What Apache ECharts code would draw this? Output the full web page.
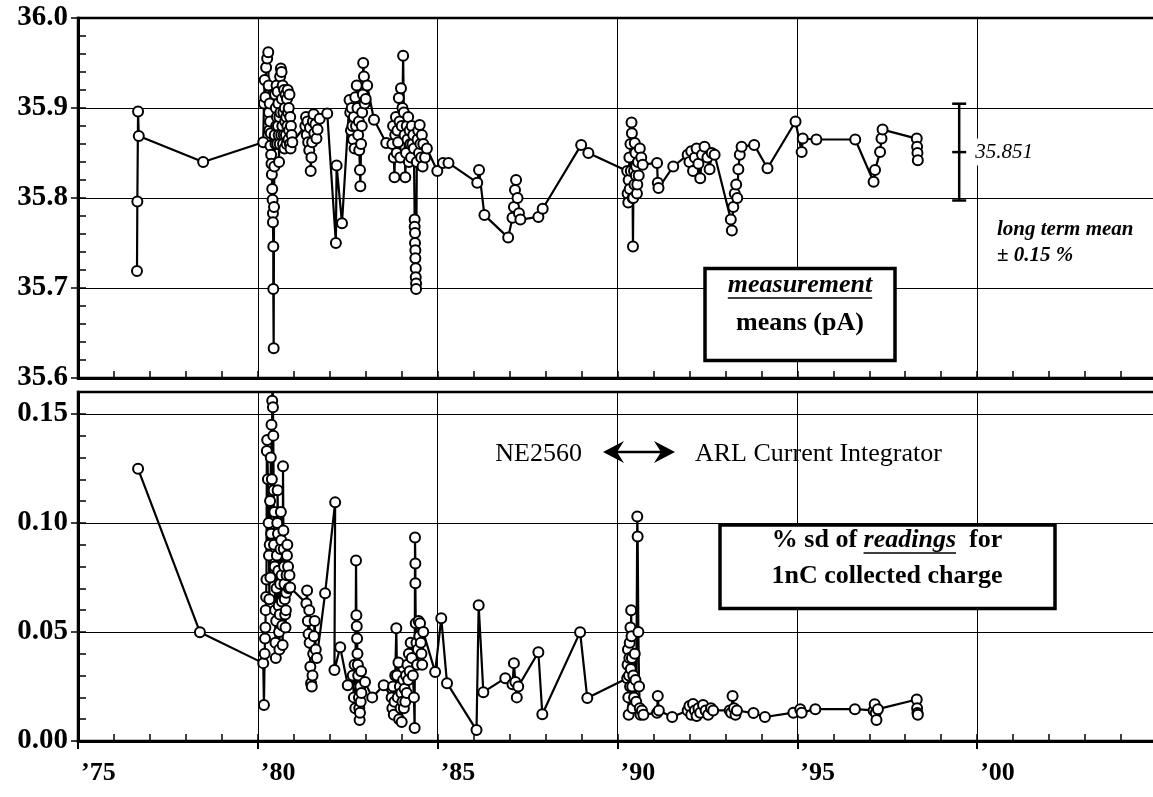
<!DOCTYPE html>
<html><head><meta charset="utf-8">
<script src="https://cdn.jsdelivr.net/npm/echarts/dist/echarts.min.js"></script>
<style>html,body{margin:0;padding:0;background:#fff}#c{width:1153px;height:797px}</style>
</head><body><div id="c"></div>
<script>
// ---------------- DATA ----------------
const xTickYears = [1975, 1980, 1985, 1990, 1995, 2000];
const xTickText  = ['’75', '’80', '’85', '’90', '’95', '’00'];
const topTickText = ['35.6', '35.7', '35.8', '35.9', '36.0'];
const sdTickText  = ['0.00', '0.05', '0.10', '0.15'];

// measurement means (pA)  [year, value]
const meanPA = [
[1976.64,35.719],[1976.65,35.796],[1976.67,35.896],[1976.69,35.869],[1978.48,35.840],
[1980.15,35.862],[1980.17,35.905],[1980.19,35.931],[1980.21,35.912],[1980.23,35.945],[1980.26,35.955],[1980.29,35.962],[1980.30,35.925],[1980.31,35.895],[1980.32,35.875],[1980.33,35.905],[1980.34,35.885],[1980.35,35.858],[1980.36,35.872],[1980.37,35.848],[1980.38,35.838],[1980.39,35.826],[1980.40,35.810],[1980.41,35.798],[1980.42,35.783],[1980.42,35.773],[1980.43,35.746],[1980.43,35.699],[1980.44,35.633],[1980.45,35.790],[1980.46,35.835],[1980.47,35.870],[1980.48,35.915],[1980.49,35.860],[1980.50,35.900],[1980.51,35.880],[1980.52,35.925],[1980.53,35.890],[1980.54,35.860],[1980.55,35.918],[1980.56,35.880],[1980.57,35.905],[1980.58,35.870],[1980.59,35.840],[1980.60,35.890],[1980.61,35.860],[1980.62,35.935],[1980.63,35.895],[1980.64,35.944],[1980.65,35.870],[1980.66,35.940],[1980.67,35.910],[1980.68,35.880],[1980.69,35.925],[1980.70,35.860],[1980.71,35.895],[1980.72,35.870],[1980.73,35.920],[1980.74,35.855],[1980.75,35.900],[1980.76,35.885],[1980.77,35.915],[1980.78,35.870],[1980.79,35.890],[1980.80,35.860],[1980.81,35.910],[1980.82,35.880],[1980.83,35.920],[1980.84,35.895],[1980.85,35.865],[1980.86,35.900],[1980.87,35.875],[1980.88,35.915],[1980.89,35.860],[1980.90,35.890],[1980.91,35.855],[1980.92,35.880],[1980.94,35.870],[1980.96,35.862],
[1981.32,35.880],[1981.34,35.890],[1981.36,35.870],[1981.38,35.885],[1981.40,35.862],[1981.43,35.853],[1981.45,35.878],[1981.47,35.830],[1981.49,35.845],[1981.51,35.862],[1981.53,35.885],[1981.55,35.893],[1981.57,35.872],[1981.60,35.882],[1981.63,35.866],[1981.66,35.876],[1981.72,35.888],[1981.93,35.894],
[1982.17,35.750],[1982.19,35.836],[1982.34,35.772],
[1982.55,35.909],[1982.57,35.895],[1982.59,35.875],[1982.61,35.900],[1982.63,35.880],[1982.65,35.865],[1982.67,35.890],[1982.69,35.855],[1982.71,35.912],[1982.73,35.880],[1982.75,35.925],[1982.77,35.900],[1982.79,35.870],[1982.81,35.885],[1982.82,35.853],[1982.84,35.831],[1982.85,35.813],[1982.87,35.860],[1982.89,35.880],[1982.90,35.895],[1982.92,35.915],[1982.93,35.950],[1982.95,35.935],[1982.97,35.905],[1983.00,35.910],[1983.04,35.925],[1983.23,35.887],[1983.57,35.861],
[1983.74,35.860],[1983.76,35.880],[1983.78,35.845],[1983.80,35.823],[1983.82,35.870],[1983.84,35.890],[1983.86,35.850],[1983.88,35.875],[1983.90,35.862],[1983.92,35.911],[1983.94,35.885],[1983.96,35.845],[1983.98,35.922],[1984.00,35.880],[1984.02,35.900],[1984.04,35.958],[1984.06,35.895],[1984.08,35.870],[1984.10,35.823],[1984.12,35.850],[1984.14,35.880],[1984.16,35.865],[1984.18,35.890],[1984.20,35.840],[1984.22,35.875],[1984.24,35.860],[1984.26,35.845],[1984.28,35.880],[1984.30,35.860],[1984.32,35.870],[1984.34,35.855],[1984.36,35.776],[1984.36,35.768],[1984.37,35.761],[1984.37,35.750],[1984.38,35.742],[1984.38,35.733],[1984.39,35.722],[1984.39,35.712],[1984.40,35.705],[1984.40,35.699],[1984.42,35.840],[1984.44,35.865],[1984.46,35.875],[1984.48,35.850],[1984.50,35.881],[1984.52,35.860],[1984.54,35.845],[1984.56,35.870],[1984.58,35.835],[1984.60,35.860],[1984.65,35.845],[1984.70,35.855],[1984.99,35.830],[1985.15,35.839],[1985.30,35.839],
[1986.10,35.817],[1986.15,35.831],[1986.30,35.781],[1986.96,35.756],[1987.08,35.778],[1987.12,35.790],[1987.15,35.809],[1987.18,35.820],[1987.22,35.800],[1987.26,35.783],[1987.30,35.776],[1987.80,35.779],[1987.92,35.788],[1988.99,35.859],[1989.19,35.850],
[1990.27,35.830],[1990.28,35.805],[1990.30,35.795],[1990.31,35.820],[1990.33,35.845],[1990.34,35.810],[1990.36,35.860],[1990.37,35.830],[1990.39,35.884],[1990.40,35.872],[1990.42,35.800],[1990.43,35.746],[1990.44,35.800],[1990.46,35.830],[1990.47,35.815],[1990.48,35.861],[1990.50,35.850],[1990.51,35.825],[1990.52,35.835],[1990.54,35.805],[1990.55,35.815],[1990.57,35.840],[1990.59,35.825],[1990.62,35.855],[1990.66,35.845],[1990.70,35.837],
[1991.10,35.839],[1991.12,35.817],[1991.14,35.811],[1991.55,35.835],[1991.95,35.848],[1992.00,35.840],[1992.05,35.852],[1992.10,35.830],[1992.15,35.845],[1992.20,35.855],[1992.25,35.838],[1992.30,35.822],[1992.35,35.848],[1992.42,35.857],[1992.50,35.845],[1992.56,35.832],[1992.62,35.850],[1992.70,35.848],
[1993.15,35.776],[1993.18,35.764],[1993.22,35.790],[1993.26,35.805],[1993.30,35.815],[1993.33,35.800],[1993.36,35.832],[1993.40,35.848],[1993.45,35.857],[1993.80,35.859],[1994.17,35.833],[1994.95,35.885],[1995.12,35.851],[1995.15,35.866],[1995.53,35.865],[1996.61,35.865],
[1997.12,35.818],[1997.16,35.831],[1997.30,35.851],[1997.34,35.866],[1997.37,35.876],[1998.32,35.866],[1998.33,35.857],[1998.34,35.850],[1998.35,35.842]
];

// % sd of readings for 1nC collected charge  [year, value]
const sdReadings = [
[1976.67,0.1248],[1978.39,0.0499],
[1980.15,0.0357],[1980.17,0.0165],[1980.19,0.0400],[1980.20,0.0470],[1980.21,0.0520],[1980.22,0.0600],[1980.23,0.0660],[1980.24,0.0740],[1980.25,0.1330],[1980.26,0.1380],[1980.28,0.1200],[1980.30,0.1000],[1980.31,0.0850],[1980.32,0.0650],[1980.33,0.0900],[1980.34,0.1100],[1980.35,0.0750],[1980.36,0.1300],[1980.37,0.0950],[1980.38,0.1450],[1980.39,0.1200],[1980.40,0.1560],[1980.41,0.1680],[1980.42,0.1530],[1980.43,0.1400],[1980.44,0.1150],[1980.45,0.0900],[1980.46,0.1050],[1980.47,0.0800],[1980.48,0.0600],[1980.49,0.0450],[1980.50,0.0380],[1980.51,0.0550],[1980.52,0.0700],[1980.53,0.0850],[1980.54,0.1000],[1980.55,0.1150],[1980.56,0.0950],[1980.57,0.0780],[1980.58,0.0620],[1980.59,0.0500],[1980.60,0.0420],[1980.61,0.0580],[1980.62,0.0720],[1980.63,0.0880],[1980.64,0.1050],[1980.65,0.0920],[1980.66,0.0760],[1980.67,0.0640],[1980.68,0.0530],[1980.69,0.0440],[1980.70,0.1260],[1980.71,0.0965],[1980.72,0.0880],[1980.73,0.0800],[1980.74,0.0720],[1980.75,0.0650],[1980.76,0.0580],[1980.77,0.0520],[1980.78,0.0600],[1980.79,0.0680],[1980.80,0.0760],[1980.81,0.0850],[1980.82,0.0900],[1980.84,0.0800],[1980.86,0.0700],[1980.88,0.0760],[1980.90,0.0704],
[1981.35,0.0630],[1981.37,0.0690],[1981.39,0.0550],[1981.41,0.0490],[1981.43,0.0600],[1981.44,0.0450],[1981.46,0.0340],[1981.48,0.0265],[1981.50,0.0250],[1981.52,0.0300],[1981.54,0.0400],[1981.56,0.0480],[1981.58,0.0550],[1981.61,0.0420],[1981.64,0.0380],[1981.87,0.0677],[1982.15,0.1094],[1982.13,0.0325],[1982.29,0.0430],[1982.50,0.0256],
[1982.64,0.0300],[1982.67,0.0200],[1982.69,0.0350],[1982.71,0.0150],[1982.73,0.0828],[1982.74,0.0576],[1982.75,0.0526],[1982.76,0.0470],[1982.77,0.0400],[1982.78,0.0350],[1982.79,0.0300],[1982.80,0.0250],[1982.81,0.0200],[1982.82,0.0150],[1982.83,0.0096],[1982.84,0.0130],[1982.85,0.0250],[1982.86,0.0180],[1982.87,0.0320],[1982.88,0.0220],[1982.98,0.0270],[1983.18,0.0200],[1983.50,0.0256],
[1983.72,0.0200],[1983.74,0.0150],[1983.76,0.0250],[1983.78,0.0120],[1983.80,0.0180],[1983.82,0.0300],[1983.85,0.0517],[1983.87,0.0300],[1983.89,0.0200],[1983.91,0.0360],[1983.93,0.0100],[1983.95,0.0250],[1983.97,0.0150],[1983.99,0.0220],[1984.00,0.0087],[1984.02,0.0180],[1984.04,0.0280],[1984.06,0.0150],[1984.08,0.0240],[1984.10,0.0180],[1984.12,0.0300],[1984.14,0.0220],[1984.16,0.0350],[1984.18,0.0280],[1984.20,0.0400],[1984.22,0.0320],[1984.25,0.0450],[1984.28,0.0380],[1984.31,0.0300],[1984.34,0.0200],[1984.36,0.0060],[1984.37,0.0933],[1984.38,0.0814],[1984.38,0.0723],[1984.39,0.0540],[1984.41,0.0450],[1984.43,0.0350],[1984.45,0.0420],[1984.47,0.0550],[1984.49,0.0480],[1984.51,0.0540],[1984.53,0.0450],[1984.55,0.0400],[1984.57,0.0350],[1984.60,0.0500],[1984.93,0.0316],[1985.10,0.0563],[1985.26,0.0265],
[1986.08,0.0050],[1986.14,0.0622],[1986.27,0.0224],[1986.88,0.0288],[1987.08,0.0260],[1987.12,0.0357],[1987.16,0.0270],[1987.20,0.0200],[1987.24,0.0250],[1987.80,0.0407],[1987.91,0.0123],[1988.96,0.0499],[1989.16,0.0197],
[1990.27,0.0288],[1990.28,0.0350],[1990.29,0.0420],[1990.30,0.0200],[1990.31,0.0120],[1990.32,0.0300],[1990.33,0.0380],[1990.34,0.0450],[1990.35,0.0250],[1990.36,0.0520],[1990.37,0.0330],[1990.38,0.0599],[1990.39,0.0480],[1990.40,0.0380],[1990.41,0.0250],[1990.42,0.0150],[1990.44,0.0300],[1990.46,0.0200],[1990.48,0.0400],[1990.50,0.0280],[1990.52,0.0180],[1990.55,0.1029],[1990.56,0.0937],[1990.58,0.0500],[1990.60,0.0250],[1990.62,0.0150],[1990.64,0.0120],[1990.68,0.0140],[1990.72,0.0120],
[1991.10,0.0130],[1991.12,0.0206],[1991.15,0.0140],[1991.52,0.0110],[1991.95,0.0140],[1992.00,0.0160],[1992.05,0.0120],[1992.10,0.0170],[1992.15,0.0140],[1992.20,0.0115],[1992.25,0.0150],[1992.30,0.0130],[1992.38,0.0165],[1992.45,0.0140],[1992.52,0.0120],[1992.60,0.0150],[1992.66,0.0140],
[1993.12,0.0140],[1993.16,0.0130],[1993.20,0.0206],[1993.24,0.0150],[1993.28,0.0120],[1993.32,0.0140],[1993.78,0.0128],[1994.10,0.0110],[1994.89,0.0130],[1995.08,0.0146],[1995.12,0.0130],[1995.50,0.0146],[1996.60,0.0146],
[1997.12,0.0140],[1997.15,0.0169],[1997.18,0.0128],[1997.20,0.0096],[1997.24,0.0146],[1998.32,0.0190],[1998.33,0.0150],[1998.34,0.0128],[1998.35,0.0120]
];

// long-term mean and its band (± 0.15 %)
const longTermMean = [35.851];
const longTermPct = [0.15];
const longTermYear = [1999.5];

// ---------------- CHART ----------------
const SERIF = '"Liberation Serif", "Times New Roman", serif';
const chart = echarts.init(document.getElementById('c'), null, {renderer: 'canvas'});

function xLabel(v) { const i = xTickYears.indexOf(Math.round(v)); return i >= 0 ? xTickText[i] : ''; }
function topLabel(v) { const i = Math.round((v - 35.6) / 0.1); return (Math.abs(v - (35.6 + i * 0.1)) < 1e-6 && topTickText[i]) ? topTickText[i] : ''; }
function sdLabel(v) { const i = Math.round(v / 0.05); return (Math.abs(v - i * 0.05) < 1e-6 && sdTickText[i]) ? sdTickText[i] : ''; }

const mctx = document.createElement('canvas').getContext('2d');
function tw(font, s) { mctx.font = font; return mctx.measureText(s).width; }

const xLabelFont = {fontFamily: SERIF, fontWeight: 'bold', fontSize: 26, color: '#000'};
const yLabelFont = {fontFamily: SERIF, fontWeight: 'bold', fontSize: 29, color: '#000'};
const splitLine = {show: true, lineStyle: {color: '#000', width: 1}};

const mean = longTermMean[0];
const band = mean * longTermPct[0] / 100;
const errData = [[longTermYear[0], mean, mean - band, mean + band]];

// annotation fonts
const fBold = 'bold 26px ' + SERIF;
const fBoldIt = 'italic bold 26px ' + SERIF;
const fReg = '26px ' + SERIF;
const fSmallBI = 'italic bold 21px ' + SERIF;

// bottom box line 1 composition
const p1 = '% sd of ', p2 = 'readings', p3 = '  for';
const w1 = tw(fBold, p1), w2 = tw(fBoldIt, p2), w3 = tw(fBold, p3);
const line1Start = 887 - (w1 + w2 + w3) / 2;
const wMeas = tw(fBoldIt, 'measurement');

const graphics = [
  // top box
  {type: 'rect', z: 100, shape: {x: 705, y: 268.5, width: 190, height: 92}, style: {fill: '#fff', stroke: '#000', lineWidth: 3.5}},
  {type: 'text', z: 101, style: {text: 'measurement', x: 800, y: 285, align: 'center', verticalAlign: 'middle', font: fBoldIt, fill: '#000'}},
  {type: 'line', z: 101, shape: {x1: 800 - wMeas / 2, y1: 298, x2: 800 + wMeas / 2, y2: 298}, style: {stroke: '#000', lineWidth: 1.5}},
  {type: 'text', z: 101, style: {text: 'means (pA)', x: 800, y: 323, align: 'center', verticalAlign: 'middle', font: fBold, fill: '#000'}},
  // long term mean note
  {type: 'text', z: 101, style: {text: 'long term mean', x: 997, y: 230, align: 'left', verticalAlign: 'middle', font: fSmallBI, fill: '#000'}},
  {type: 'text', z: 101, style: {text: '± 0.15 %', x: 997, y: 256, align: 'left', verticalAlign: 'middle', font: fSmallBI, fill: '#000'}},
  // NE2560 <-> ARL
  {type: 'text', z: 101, style: {text: 'NE2560', x: 582, y: 454, align: 'right', verticalAlign: 'middle', font: fReg, fill: '#000'}},
  {type: 'line', z: 101, shape: {x1: 612, y1: 452, x2: 666, y2: 452}, style: {stroke: '#000', lineWidth: 2.5}},
  {type: 'polygon', z: 101, shape: {points: [[603, 452], [624, 441], [617, 452], [624, 463]]}, style: {fill: '#000'}},
  {type: 'polygon', z: 101, shape: {points: [[675, 452], [654, 441], [661, 452], [654, 463]]}, style: {fill: '#000'}},
  {type: 'text', z: 101, style: {text: 'ARL Current Integrator', x: 695, y: 454, align: 'left', verticalAlign: 'middle', font: fReg, fill: '#000'}},
  // bottom box
  {type: 'rect', z: 100, shape: {x: 720, y: 525, width: 335, height: 83.5}, style: {fill: '#fff', stroke: '#000', lineWidth: 3.5}},
  {type: 'text', z: 101, style: {text: p1, x: line1Start, y: 540, align: 'left', verticalAlign: 'middle', font: fBold, fill: '#000'}},
  {type: 'text', z: 101, style: {text: p2, x: line1Start + w1, y: 540, align: 'left', verticalAlign: 'middle', font: fBoldIt, fill: '#000'}},
  {type: 'line', z: 101, shape: {x1: line1Start + w1, y1: 553, x2: line1Start + w1 + w2, y2: 553}, style: {stroke: '#000', lineWidth: 1.5}},
  {type: 'text', z: 101, style: {text: p3, x: line1Start + w1 + w2, y: 540, align: 'left', verticalAlign: 'middle', font: fBold, fill: '#000'}},
  {type: 'text', z: 101, style: {text: '1nC collected charge', x: 887, y: 576, align: 'center', verticalAlign: 'middle', font: fBold, fill: '#000'}}
];

const markerStyle = {
  symbol: 'emptyCircle', symbolSize: 10, showAllSymbol: true, clip: true,
  lineStyle: {color: '#000', width: 2.2}, itemStyle: {color: '#000', borderColor: '#000', borderWidth: 2.5}, z: 5
};

const option = {
  animation: false,
  backgroundColor: '#fff',
  grid: [
    {left: 78, top: 18, width: 1079, height: 360, show: true, borderColor: '#000', borderWidth: 2.5, backgroundColor: 'transparent', containLabel: false, outerBoundsMode: 'none'},
    {left: 78, top: 392, width: 1079, height: 349, show: true, borderColor: '#000', borderWidth: 2.5, backgroundColor: 'transparent', containLabel: false, outerBoundsMode: 'none'}
  ],
  xAxis: [
    {gridIndex: 0, type: 'value', min: 1975, max: 2005, interval: 5, position: 'bottom',
     axisLine: {show: true, onZero: false, lineStyle: {color: '#000', width: 3}}, axisTick: {show: false}, axisLabel: {show: false}, splitLine: splitLine},
    {gridIndex: 0, type: 'value', min: 1975, max: 2005, interval: 1, position: 'bottom',
     axisLine: {show: false, onZero: false}, axisTick: {show: true, inside: true, length: 7, lineStyle: {color: '#000', width: 1.5}}, axisLabel: {show: false}, splitLine: {show: false}},
    {gridIndex: 1, type: 'value', min: 1975, max: 2005, interval: 5, position: 'bottom',
     axisLine: {show: true, onZero: false, lineStyle: {color: '#000', width: 3}}, axisTick: {show: true, inside: false, length: 8, lineStyle: {color: '#000', width: 2}},
     axisLabel: Object.assign({show: true, margin: 19, align: 'left', padding: [0, 0, 0, 3], formatter: xLabel, showMaxLabel: false, hideOverlap: false}, xLabelFont), splitLine: splitLine},
    {gridIndex: 1, type: 'value', min: 1975, max: 2005, interval: 1, position: 'bottom',
     axisLine: {show: false, onZero: false}, axisTick: {show: true, inside: true, length: 7, lineStyle: {color: '#000', width: 1.5}}, axisLabel: {show: false}, splitLine: {show: false}}
  ],
  yAxis: [
    {gridIndex: 0, type: 'value', min: 35.6, max: 36.0, interval: 0.1, position: 'left', scale: true,
     axisLine: {show: true, onZero: false, lineStyle: {color: '#000', width: 3}}, axisTick: {show: true, inside: false, length: 7, lineStyle: {color: '#000', width: 1.5}},
     axisLabel: Object.assign({show: true, margin: 10, formatter: topLabel, hideOverlap: false}, yLabelFont), splitLine: splitLine},
    {gridIndex: 0, type: 'value', min: 35.6, max: 36.0, interval: 0.02, position: 'left', scale: true,
     axisLine: {show: false, onZero: false}, axisTick: {show: true, inside: true, length: 8, lineStyle: {color: '#000', width: 1.5}}, axisLabel: {show: false}, splitLine: {show: false}},
    {gridIndex: 1, type: 'value', min: 0, max: 0.16, interval: 0.05, position: 'left',
     axisLine: {show: true, onZero: false, lineStyle: {color: '#000', width: 3}}, axisTick: {show: true, inside: false, length: 7, lineStyle: {color: '#000', width: 1.5}},
     axisLabel: Object.assign({show: true, margin: 10, formatter: sdLabel, showMaxLabel: false, hideOverlap: false}, yLabelFont), splitLine: splitLine},
    {gridIndex: 1, type: 'value', min: 0, max: 0.16, interval: 0.01, position: 'left',
     axisLine: {show: false, onZero: false}, axisTick: {show: true, inside: true, length: 8, lineStyle: {color: '#000', width: 1.5}}, axisLabel: {show: false}, splitLine: {show: false}}
  ],
  series: [
    Object.assign({type: 'line', name: 'measurement means (pA)', xAxisIndex: 0, yAxisIndex: 0, data: meanPA}, markerStyle),
    Object.assign({type: 'line', name: '% sd of readings', xAxisIndex: 2, yAxisIndex: 2, data: sdReadings}, markerStyle),
    {type: 'custom', name: 'long term mean', xAxisIndex: 0, yAxisIndex: 0, data: errData, z: 6,
     renderItem: function (params, api) {
       const x = api.value(0), m = api.value(1), lo = api.value(2), hi = api.value(3);
       const pm = api.coord([x, m]), pl = api.coord([x, lo]), ph = api.coord([x, hi]);
       const hw = 7, st = {stroke: '#000', lineWidth: 2.5};
       return {type: 'group', children: [
         {type: 'line', shape: {x1: pl[0], y1: pl[1], x2: ph[0], y2: ph[1]}, style: st},
         {type: 'line', shape: {x1: pl[0] - hw, y1: pl[1], x2: pl[0] + hw, y2: pl[1]}, style: st},
         {type: 'line', shape: {x1: ph[0] - hw, y1: ph[1], x2: ph[0] + hw, y2: ph[1]}, style: st},
         {type: 'line', shape: {x1: pm[0] - hw, y1: pm[1], x2: pm[0] + hw, y2: pm[1]}, style: st},
         {type: 'text', style: {text: m.toFixed(3), x: pm[0] + 14, y: pm[1], align: 'left', verticalAlign: 'middle',
           font: 'italic 21px ' + SERIF, fill: '#000', backgroundColor: '#fff', padding: [3, 2, 3, 2]}}
       ]};
     }}
  ],
  graphic: graphics
};
chart.setOption(option);
</script>
</body></html>
